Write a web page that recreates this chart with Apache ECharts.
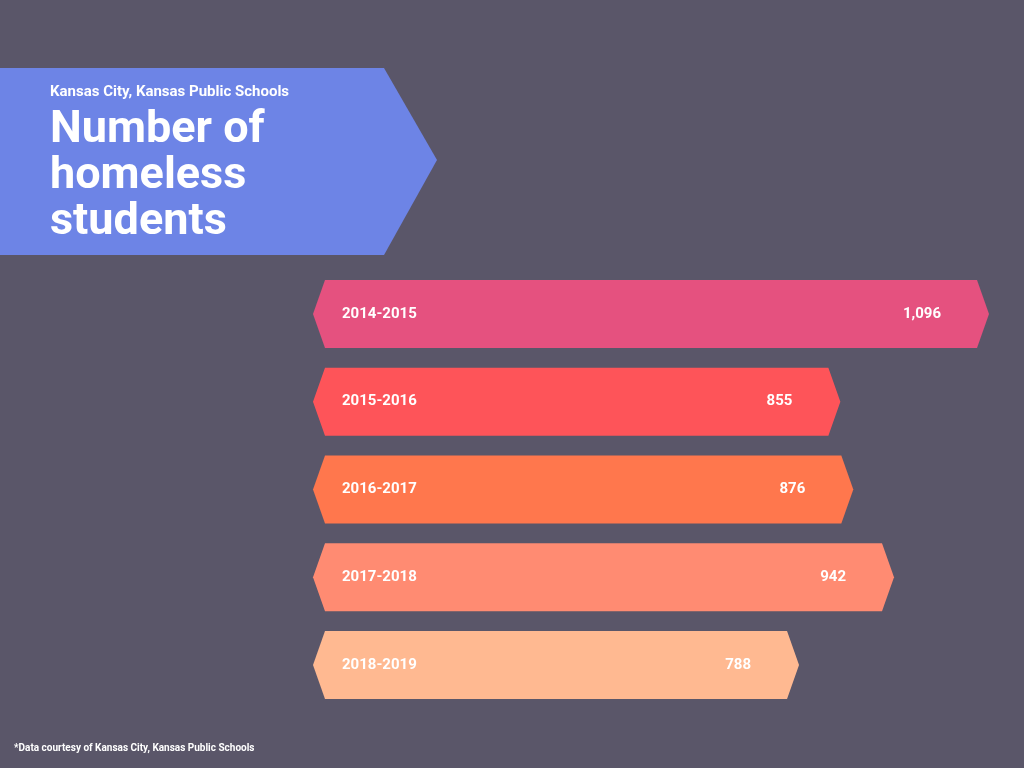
<!DOCTYPE html>
<html><head><meta charset="utf-8">
<script src="https://cdn.jsdelivr.net/npm/echarts@6/dist/echarts.min.js"></script>
<style>html,body{margin:0;padding:0;background:#5a5669}#c{width:1024px;height:768px}</style>
</head><body><div id="c"></div>
<script>
const categories = ['2014-2015','2015-2016','2016-2017','2017-2018','2018-2019'];
const values = [1096, 855, 876, 942, 788];
const colors = ['#e5517f','#fe5459','#ff774d','#ff8b72','#ffb991'];
const chart = echarts.init(document.getElementById('c'));
const font = 'Roboto, "Liberation Sans", sans-serif';
chart.setOption({
  backgroundColor: '#5a5669',
  grid: {left: 313, right: 35, top: 270, bottom: 59},
  xAxis: {type: 'value', min: 0, max: 1096, show: false},
  yAxis: {type: 'category', data: categories, inverse: true, show: false},
  graphic: [
    {type: 'polygon', shape: {points: [[0,68],[384,68],[437,160],[384,255],[0,255]]}, style: {fill: '#6d84e6'}},
    {type: 'text', left: 50, top: 85, style: {text: 'Kansas City, Kansas Public Schools', fill: '#fff', font: 'bold 15px ' + font}},
    {type: 'text', left: 50, top: 108, style: {text: 'Number of\nhomeless\nstudents', fill: '#fff', font: 'bold 45px ' + font, lineHeight: 46}},
    {type: 'text', left: 14, top: 743, style: {text: '*Data courtesy of Kansas City, Kansas Public Schools', fill: '#fff', font: 'bold 10px ' + font}}
  ],
  series: [{
    type: 'custom',
    data: values.map((v, i) => [v, i]),
    renderItem: function (params, api) {
      const i = api.value(1);
      const p0 = api.coord([0, i]);
      const p1 = api.coord([api.value(0), i]);
      const yc = p0[1], h = 34, x0 = p0[0], x1 = p1[0];
      return {type: 'group', children: [
        {type: 'polygon', shape: {points: [[x0,yc],[x0+12,yc-h],[x1-12,yc-h],[x1,yc],[x1-12,yc+h],[x0+12,yc+h]]}, style: {fill: colors[i]}},
        {type: 'text', style: {text: categories[i], x: x0 + 29, y: yc, verticalAlign: 'middle', fill: '#fff', font: 'bold 15px ' + font}},
        {type: 'text', style: {text: api.value(0).toLocaleString('en-US'), x: x1 - 48, y: yc, align: 'right', verticalAlign: 'middle', fill: '#fff', font: 'bold 15px ' + font}}
      ]};
    }
  }]
});
</script></body></html>
